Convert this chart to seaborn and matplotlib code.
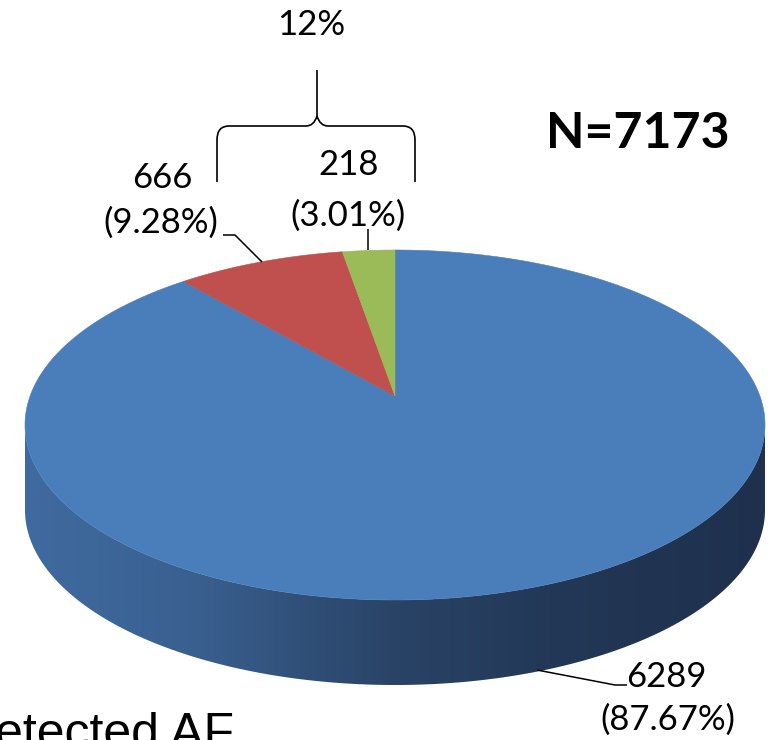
import numpy as np
import matplotlib
matplotlib.use("Agg")
import matplotlib.pyplot as plt
from matplotlib.patches import Polygon, PathPatch
from matplotlib.path import Path
import seaborn as sns

# ---- data ----
counts = [6289, 666, 218]
pct_labels = ["87.67%", "9.28%", "3.01%"]
slice_colors = ["#4a7ebb", "#c0504d", "#9bbb59"]
total_label = "N=7173"
group_label = "12%"
caption = "Detected AF"

sns.set_theme(style="white")
plt.rcParams["font.family"] = ["Lato", "DejaVu Sans"]

W, H = 768, 740
fig = plt.figure(figsize=(W / 100, H / 100), dpi=100)
ax = fig.add_axes([0, 0, 1, 1])
ax.set_xlim(0, W)
ax.set_ylim(H, 0)
ax.axis("off")

# ---- geometry of the tilted disc (pixel space) ----
EX, EY = 395.0, 425.0      # centre of the top ellipse
RA, RB = 370.0, 175.0      # semi-axes of the top ellipse
AX_, AY_ = 395.0, 396.0    # apex where the slices meet
SQUASH = 0.53              # vertical squash of the slice directions
DEPTH = 85.0               # wall height


def rim_point(frac):
    """Point on the rim for a cumulative fraction (clockwise from 12 o'clock)."""
    a = 2 * np.pi * np.asarray(frac, float)
    dx, dy = np.sin(a), -SQUASH * np.cos(a)
    ox, oy = (AX_ - EX) / RA, (AY_ - EY) / RB
    ux, uy = dx / RA, dy / RB
    qa = ux ** 2 + uy ** 2
    qb = 2 * (ox * ux + oy * uy)
    qc = ox ** 2 + oy ** 2 - 1
    s = (-qb + np.sqrt(qb ** 2 - 4 * qa * qc)) / (2 * qa)
    return AX_ + s * dx, AY_ + s * dy


# ---- side wall with horizontal shading ----
phi = np.linspace(0, np.pi, 800)          # front half of the ellipse
fx = EX + RA * np.cos(phi)
fy = EY + RB * np.sin(phi)
side_verts = np.vstack([np.column_stack([fx, fy]),
                        np.column_stack([fx[::-1], fy[::-1] + DEPTH])])
side_patch = PathPatch(Path(np.vstack([side_verts, side_verts[:1]]), closed=True),
                       facecolor="none", edgecolor="none")
ax.add_patch(side_patch)

stops_x = [25, 200, 300, 400, 550, 765]
stops_c = np.array([(64, 107, 160), (57, 95, 143), (48, 80, 121),
                    (41, 67, 102), (35, 56, 87), (30, 48, 76)]) / 255.0
gx = np.linspace(20, 770, 600)
grad = np.stack([np.interp(gx, stops_x, stops_c[:, k]) for k in range(3)], axis=-1)
grad = np.repeat(grad[None, :, :], 2, axis=0)
im = ax.imshow(grad, extent=[20, 770, 720, 370], aspect="auto",
               interpolation="bilinear", zorder=1)
im.set_clip_path(side_patch)

# ---- top face slices ----
fracs = np.array(counts, float) / sum(counts)
bounds = np.concatenate([[0], np.cumsum(fracs)])
for k in range(len(counts)):
    t = np.linspace(bounds[k], bounds[k + 1], 800)
    ex, ey = rim_point(t)
    verts = np.vstack([[AX_, AY_], np.column_stack([ex, ey])])
    ax.add_patch(Polygon(verts, closed=True, facecolor=slice_colors[k],
                         edgecolor=slice_colors[k], lw=0.4, zorder=2))

# ---- labels ----
lab_kw = dict(fontsize=25, color="black", ha="center", va="baseline", zorder=5)
ax.text(162, 188, f"{counts[1]}", **lab_kw)
ax.text(161, 233, f"({pct_labels[1]})", **lab_kw)
ax.text(349, 175, f"{counts[2]}", **lab_kw)
ax.text(348, 226, f"({pct_labels[2]})", **lab_kw)
ax.text(666, 687, f"{counts[0]}", **lab_kw)
ax.text(668, 730, f"({pct_labels[0]})", **lab_kw)
ax.text(311, 35, group_label, **lab_kw)
ax.text(638, 148, total_label, fontsize=36, fontweight="bold", color="black",
        ha="center", va="baseline", zorder=5)
ax.text(-41, 748, caption, fontsize=36, family="Liberation Sans", color="black",
        ha="left", va="baseline", zorder=5)

# leader lines
lk = dict(color="black", lw=1.1, zorder=4, solid_capstyle="butt")
ax.plot([223, 235, 262], [235, 235, 262], **lk)
ax.plot([368, 368], [229, 250], **lk)
ax.plot([537, 615, 627], [670, 685, 685], **lk)

# curly brace over the two small groups
br = Path([(217, 182), (217, 140), (217, 126), (229, 126),
           (306, 126), (314, 126), (317, 116), (317, 70),
           (317, 116), (320, 126), (328, 126), (403, 126),
           (415, 126), (415, 140), (415, 182)],
          [Path.MOVETO, Path.LINETO, Path.CURVE3, Path.CURVE3,
           Path.LINETO, Path.CURVE3, Path.CURVE3, Path.LINETO,
           Path.MOVETO, Path.CURVE3, Path.CURVE3, Path.LINETO,
           Path.CURVE3, Path.CURVE3, Path.LINETO])
ax.add_patch(PathPatch(br, facecolor="none", edgecolor="black", lw=1.2, zorder=4))

fig.savefig("out.png", dpi=100)
